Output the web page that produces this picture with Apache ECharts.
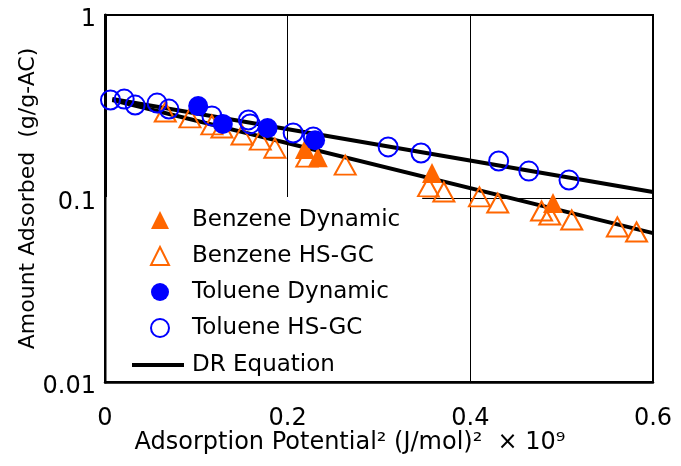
<!DOCTYPE html>
<html>
<head>
<meta charset="utf-8">
<script src="https://cdn.jsdelivr.net/npm/echarts@6/dist/echarts.min.js"></script>
<style>html,body{margin:0;padding:0;background:#fff;}#c{width:681px;height:466px;}</style>
</head>
<body>
<div id="c"></div>
<script>
// ---- data ----
const xTicks = [0, 0.2, 0.4, 0.6];
const yTicks = [0.01, 0.1, 1];

const benzeneDynX = [0.219, 0.233, 0.358, 0.4905];
const benzeneDynY = [0.186, 0.168, 0.1377, 0.0945];

const benzeneHsX = [0.066, 0.093, 0.117, 0.128, 0.150, 0.170, 0.186, 0.221, 0.263, 0.354, 0.371, 0.410, 0.430, 0.478, 0.487, 0.511, 0.561, 0.582];
const benzeneHsY = [0.296, 0.275, 0.252, 0.242, 0.222, 0.208, 0.188, 0.168, 0.152, 0.1155, 0.1085, 0.102, 0.0945, 0.0855, 0.0813, 0.0764, 0.070, 0.0657];

const tolueneDynX = [0.102, 0.129, 0.178, 0.230];
const tolueneDynY = [0.319, 0.255, 0.242, 0.208];

const tolueneHsX = [0.006, 0.021, 0.033, 0.057, 0.070, 0.117, 0.157, 0.159, 0.206, 0.228, 0.310, 0.346, 0.431, 0.464, 0.508];
const tolueneHsY = [0.344, 0.348, 0.323, 0.331, 0.307, 0.282, 0.268, 0.255, 0.2275, 0.2164, 0.191, 0.177, 0.160, 0.141, 0.126];

const drTolueneX = [0.008, 0.6];
const drTolueneY = [0.3485, 0.1085];
const drBenzeneX = [0.008, 0.6];
const drBenzeneY = [0.344, 0.0648];

const names = ['Benzene Dynamic', 'Benzene HS-GC', 'Toluene Dynamic', 'Toluene HS-GC', 'DR Equation'];

function pairs(xs, ys) { return xs.map((x, i) => [x, ys[i]]); }

const ORANGE = '#FF6600';
const BLUE = '#0000FF';
const FONT = 'DejaVu Sans';
const legendText = {color: '#000', fontSize: 23, fontFamily: FONT, lineHeight: 26};

const chart = echarts.init(document.getElementById('c'), null, {renderer: 'canvas'});
chart.setOption({
  animation: false,
  backgroundColor: '#fff',
  textStyle: {fontFamily: FONT},
  grid: {left: 105, right: 28, top: 15, bottom: 84, show: true, borderColor: '#000', borderWidth: 2, backgroundColor: 'transparent'},
  xAxis: {
    type: 'value', min: xTicks[0], max: xTicks[xTicks.length - 1], interval: 0.2,
    axisLine: {show: true, onZero: false, lineStyle: {color: '#000', width: 2.5}},
    axisTick: {show: false},
    splitLine: {show: true, lineStyle: {color: '#000', width: 1}},
    axisLabel: {color: '#000', fontSize: 24, fontFamily: FONT, margin: 25},
    name: 'Adsorption Potential² (J/mol)²  × 10⁹',
    nameLocation: 'middle', nameGap: 49, nameMoveOverlap: false,
    nameTextStyle: {color: '#000', fontSize: 24, fontFamily: FONT, padding: [0, 58, 0, 0]}
  },
  yAxis: {
    type: 'log', logBase: 10, min: yTicks[0], max: yTicks[yTicks.length - 1],
    axisLine: {show: true, lineStyle: {color: '#000', width: 3}},
    axisTick: {show: false},
    splitLine: {show: true, lineStyle: {color: '#000', width: 1}},
    axisLabel: {color: '#000', fontSize: 24, fontFamily: FONT, margin: 9, verticalAlign: 'top', lineHeight: 9},
    name: 'Amount Adsorbed  (g/g-AC)',
    nameLocation: 'middle', nameGap: 66, nameRotate: 90, nameMoveOverlap: false,
    nameTextStyle: {color: '#000', fontSize: 22, fontFamily: FONT}
  },
  legend: [
    {
      orient: 'vertical', left: 106.5, top: 197,
      padding: [10, 22, 40, 43.5],
      backgroundColor: '#fff',
      itemWidth: 18, itemHeight: 18, itemGap: 10,
      symbolKeepAspect: true,
      textStyle: Object.assign({padding: [0, 0, 0, 18]}, legendText),
      data: [
        {name: names[0], icon: 'triangle'},
        {name: names[1], icon: 'triangle'},
        {name: names[2], icon: 'circle'},
        {name: names[3], icon: 'circle'}
      ],
      selectedMode: false,
      z: 5
    },
    {
      orient: 'vertical', left: 132, top: 352,
      padding: 0,
      itemWidth: 52, itemHeight: 4,
      symbolKeepAspect: false,
      textStyle: Object.assign({padding: [0, 0, 0, 3]}, legendText),
      data: [
        {name: names[4], icon: 'rect', itemStyle: {color: '#000', borderWidth: 0}}
      ],
      selectedMode: false,
      z: 6
    }
  ],
  series: [
    {name: names[4], type: 'line', data: pairs(drTolueneX, drTolueneY), showSymbol: false, symbol: 'none',
      lineStyle: {color: '#000', width: 4}, itemStyle: {color: '#000'}, z: 1},
    {name: names[4], type: 'line', data: pairs(drBenzeneX, drBenzeneY), showSymbol: false, symbol: 'none',
      lineStyle: {color: '#000', width: 4}, itemStyle: {color: '#000'}, z: 1},
    {name: names[1], type: 'scatter', symbol: 'triangle', symbolSize: [21, 19], data: pairs(benzeneHsX, benzeneHsY),
      itemStyle: {color: 'rgba(255,255,255,0)', borderColor: ORANGE, borderWidth: 2, opacity: 1}, z: 3},
    {name: names[0], type: 'scatter', symbol: 'triangle', symbolSize: [20, 20], data: pairs(benzeneDynX, benzeneDynY),
      itemStyle: {color: ORANGE, opacity: 1}, z: 3},
    {name: names[3], type: 'scatter', symbol: 'circle', symbolSize: 19, data: pairs(tolueneHsX, tolueneHsY),
      itemStyle: {color: 'rgba(255,255,255,0)', borderColor: BLUE, borderWidth: 2, opacity: 1}, z: 3},
    {name: names[2], type: 'scatter', symbol: 'circle', symbolSize: 20, data: pairs(tolueneDynX, tolueneDynY),
      itemStyle: {color: BLUE, opacity: 1}, z: 3}
  ]
});
</script>
</body>
</html>
